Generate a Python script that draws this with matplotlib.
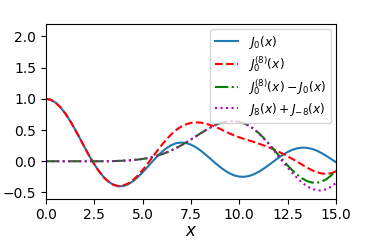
import numpy as np
import matplotlib
matplotlib.use("Agg")
import matplotlib.pyplot as plt

x = np.arange(0, 15.001, 0.25)
j0 = [1.0, 0.984, 0.938, 0.864, 0.765, 0.646, 0.512, 0.369, 0.224, 0.080,
      -0.048, -0.164, -0.260, -0.331, -0.380, -0.402, -0.397, -0.369, -0.321, -0.255,
      -0.178, -0.094, -0.007, 0.077, 0.151, 0.213, 0.260, 0.290, 0.300, 0.291,
      0.266, 0.225, 0.172, 0.109, 0.042, -0.026, -0.090, -0.147, -0.194, -0.228,
      -0.246, -0.249, -0.237, -0.210, -0.171, -0.122, -0.068, -0.010, 0.048, 0.101,
      0.147, 0.183, 0.207, 0.218, 0.215, 0.199, 0.171, 0.133, 0.087, 0.037, -0.014]
j0_8 = [1.0, 0.984, 0.938, 0.864, 0.765, 0.646, 0.512, 0.369, 0.224, 0.080,
        -0.048, -0.164, -0.260, -0.330, -0.377, -0.397, -0.388, -0.356, -0.302, -0.228,
        -0.141, -0.044, 0.060, 0.165, 0.264, 0.355, 0.436, 0.504, 0.556, 0.592,
        0.614, 0.622, 0.619, 0.603, 0.580, 0.551, 0.520, 0.481, 0.445, 0.412,
        0.384, 0.357, 0.334, 0.310, 0.283, 0.256, 0.228, 0.194, 0.158, 0.122,
        0.081, 0.037, -0.008, -0.054, -0.102, -0.141, -0.174, -0.195, -0.203, -0.193, -0.164]
diff = [0.0, 0.0, 0.0, 0.0, 0.0, 0.0, 0.0, 0.0, 0.0, 0.0,
        0.0, 0.0, 0.0, 0.001, 0.003, 0.005, 0.009, 0.013, 0.019, 0.027,
        0.037, 0.050, 0.067, 0.088, 0.113, 0.142, 0.176, 0.214, 0.256, 0.301,
        0.348, 0.397, 0.447, 0.494, 0.538, 0.577, 0.610, 0.628, 0.639, 0.640,
        0.630, 0.606, 0.571, 0.520, 0.454, 0.378, 0.296, 0.204, 0.110, 0.021,
        -0.066, -0.146, -0.215, -0.272, -0.317, -0.340, -0.345, -0.328, -0.290, -0.230, -0.150]
j8sum = [0.0, 0.0, 0.0, 0.0, 0.0, 0.0, 0.0, 0.0, 0.0, 0.0,
         0.0, 0.0, 0.0, 0.001, 0.003, 0.005, 0.009, 0.013, 0.019, 0.027,
         0.037, 0.050, 0.067, 0.088, 0.113, 0.142, 0.176, 0.214, 0.256, 0.301,
         0.348, 0.397, 0.447, 0.494, 0.538, 0.577, 0.610, 0.628, 0.639, 0.640,
         0.628, 0.604, 0.568, 0.516, 0.449, 0.371, 0.286, 0.190, 0.090, -0.005,
         -0.100, -0.190, -0.270, -0.340, -0.400, -0.440, -0.465, -0.468, -0.450, -0.410, -0.350]

labels = [r'$J_0(x)$', r'$J_0^{(8)}(x)$', r'$J_0^{(8)}(x)-J_0(x)$', r'$J_8(x)+J_{-8}(x)$']

fig = plt.figure(figsize=(3.74, 2.49), dpi=100)
ax = fig.add_axes([0.123, 0.202, 0.775, 0.702])
ax.plot(x, j0, color='C0', label=labels[0])
ax.plot(x, j0_8, 'r--', label=labels[1])
ax.plot(x, diff, 'g-.', label=labels[2])
ax.plot(x, j8sum, 'm:', label=labels[3])
ax.set_xlim(0, 15)
ax.set_ylim(-0.6, 2.2)
ax.set_xticks([0, 2.5, 5, 7.5, 10, 12.5, 15])
ax.set_yticks([-0.5, 0, 0.5, 1.0, 1.5, 2.0])
ax.tick_params(labelsize=10)
ax.set_xlabel(r'$x$', fontsize=12, labelpad=0)
ax.legend(loc='upper right', fontsize=8.8, labelspacing=0.3, handlelength=1.9,
          borderaxespad=0.4)
fig.savefig('out.png', dpi=100)
